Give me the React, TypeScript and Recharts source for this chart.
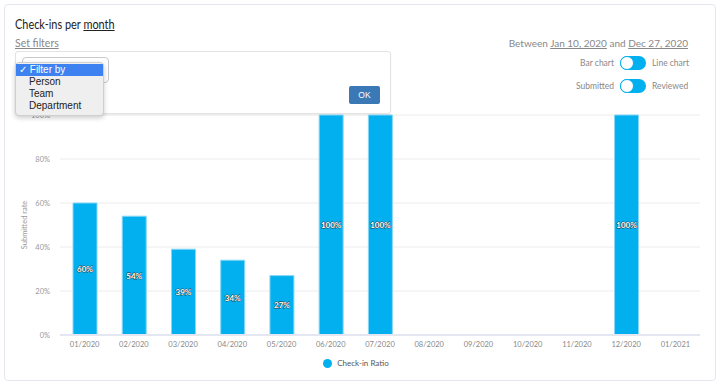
import React from 'react';
import { BarChart, Bar, XAxis, YAxis, CartesianGrid, Legend, LabelList } from 'recharts';

const months = ['01/2020','02/2020','03/2020','04/2020','05/2020','06/2020','07/2020','08/2020','09/2020','10/2020','11/2020','12/2020','01/2021'];
const ratios = [60, 54, 39, 34, 27, 100, 100, 0, 0, 0, 0, 100, 0];
const yTicks = [0, 20, 40, 60, 80, 100];
const filterOptions = ['Filter by', 'Person', 'Team', 'Department'];

const data = months.map((m, i) => ({ month: m, ratio: ratios[i] }));

const BLUE = '#03b0ef';
const FONT = 'Lato, "Open Sans", sans-serif';

const Toggle = ({ top, left, right }: { top: number; left: string; right: string }) => (
  <div style={{ position: 'absolute', top, left: 0, width: 720, height: 14 }}>
    <div style={{ position: 'absolute', right: 720 - 614, top: 0, lineHeight: '14px', fontSize: 8.5, color: '#888' }}>{left}</div>
    <div style={{ position: 'absolute', left: 620, top: 0, width: 26, height: 14, borderRadius: 7, background: BLUE }}>
      <div style={{ position: 'absolute', left: 0, top: 0, width: 12, height: 12, borderRadius: 7, background: '#fff', border: `1px solid ${BLUE}` }} />
    </div>
    <div style={{ position: 'absolute', left: 652, top: 0, lineHeight: '14px', fontSize: 8.5, color: '#888' }}>{right}</div>
  </div>
);

const renderBarLabel = (props: any) => {
  const { x, y, width, height, value } = props;
  if (!value) return null;
  return (
    <text x={x + width / 2} y={y + height / 2} textAnchor="middle" dominantBaseline="central"
      fontSize={8} fontWeight={700} fill="#fff" stroke="#333" strokeWidth={0.8} paintOrder="stroke" fontFamily={FONT}>
      {`${value}%`}
    </text>
  );
};

const renderLegend = () => (
  <div style={{ display: 'flex', justifyContent: 'center', alignItems: 'center', fontFamily: FONT, fontSize: 8, color: '#555' }}>
    <span style={{ display: 'inline-block', width: 9, height: 9, borderRadius: 5, background: BLUE, marginRight: 5, marginLeft: -8 }} />
    <span>Check-in Ratio</span>
  </div>
);

export default function App() {
  return (
    <div style={{ position: 'absolute', left: 0, top: 0, width: 720, height: 383, background: '#fff', fontFamily: FONT, overflow: 'hidden' }}>
      <div style={{ position: 'absolute', left: 4, top: 4, width: 710, height: 375, border: '1px solid #e6e7ee', borderRadius: 4 }} />

      <div style={{ position: 'absolute', left: 0, top: 0 }}>
        <BarChart width={720} height={383} data={data} margin={{ top: 115, right: 20, left: 10, bottom: 18 }} barCategoryGap="25%">
          <CartesianGrid vertical={false} stroke="#ececec" />
          <XAxis dataKey="month" tickLine={false} axisLine={{ stroke: '#e4e7f2', strokeWidth: 2 }} tick={{ fontSize: 7.5, fill: '#888', fontFamily: FONT }} tickMargin={1} interval={0} height={20} />
          <YAxis domain={[0, 100]} ticks={yTicks} tickFormatter={(v: number) => `${v}%`} tickLine={false} axisLine={false} width={50} tickMargin={4}
            tick={{ fontSize: 7.5, fill: '#999', fontFamily: FONT }}
            label={{ value: 'Submitted rate', angle: -90, position: 'insideLeft', offset: 14, style: { fontSize: 7.5, fill: '#999', fontFamily: FONT, textAnchor: 'middle' } }} />
          <Legend verticalAlign="bottom" content={renderLegend} wrapperStyle={{ top: 358, left: 0, width: 720 }} />
          <Bar dataKey="ratio" name="Check-in Ratio" fill={BLUE} stroke="#86d7f7" strokeWidth={1} barSize={24} isAnimationActive={false}>
            <LabelList dataKey="ratio" content={renderBarLabel} />
          </Bar>
        </BarChart>
      </div>

      {/* Header */}
      <div style={{ position: 'absolute', left: 15, top: 16, fontSize: 13, color: '#222', transform: 'scaleX(0.84)', transformOrigin: 'left top', whiteSpace: 'nowrap' }}>
        Check-ins per <span style={{ textDecoration: 'underline' }}>month</span>
      </div>
      <div style={{ position: 'absolute', left: 15, top: 37, fontSize: 10.5, color: '#888', textDecoration: 'underline' }}>Set filters</div>

      <div style={{ position: 'absolute', right: 720 - 688, top: 37, fontSize: 10, color: '#888' }}>
        Between <span style={{ textDecoration: 'underline' }}>Jan 10, 2020</span> and <span style={{ textDecoration: 'underline' }}>Dec 27, 2020</span>
      </div>
      <Toggle top={56} left="Bar chart" right="Line chart" />
      <Toggle top={79} left="Submitted" right="Reviewed" />

      {/* Filter panel */}
      <div style={{ position: 'absolute', left: 15, top: 51, width: 374, height: 61, border: '1px solid #e3e3e3', borderRadius: 3, background: '#fff', boxShadow: '0 1px 2px rgba(0,0,0,0.05)' }} />
      <div style={{ position: 'absolute', left: 22, top: 57, width: 85, height: 24, border: '1px solid #c8c8c8', borderRadius: 4, background: '#fff' }}>
        <span style={{ position: 'absolute', right: 5, top: 5, fontSize: 8, color: '#555' }}>✓</span>
      </div>
      <div style={{ position: 'absolute', left: 349, top: 86, width: 31, height: 18, background: '#3a78b6', borderRadius: 2, color: '#fff', fontSize: 8.5, lineHeight: '18px', textAlign: 'center', fontFamily: '"Liberation Sans", sans-serif' }}>OK</div>

      <div style={{ position: 'absolute', left: 15, top: 62, width: 87, height: 52, background: '#efefef', border: '1px solid #cfcfcf', borderRadius: 4, boxShadow: '0 2px 5px rgba(0,0,0,0.2)', fontFamily: '"Liberation Sans", Arial, sans-serif', fontSize: 10, color: '#222' }}>
        {filterOptions.map((o, i) => (
          <div key={o} style={{ height: 12, lineHeight: '12px', marginTop: i === 0 ? 1 : 0, paddingLeft: i === 0 ? 3 : 13, background: i === 0 ? '#3d82f0' : 'transparent', color: i === 0 ? '#fff' : '#222' }}>
            {i === 0 ? '✓ ' : ''}{o}
          </div>
        ))}
      </div>
    </div>
  );
}
